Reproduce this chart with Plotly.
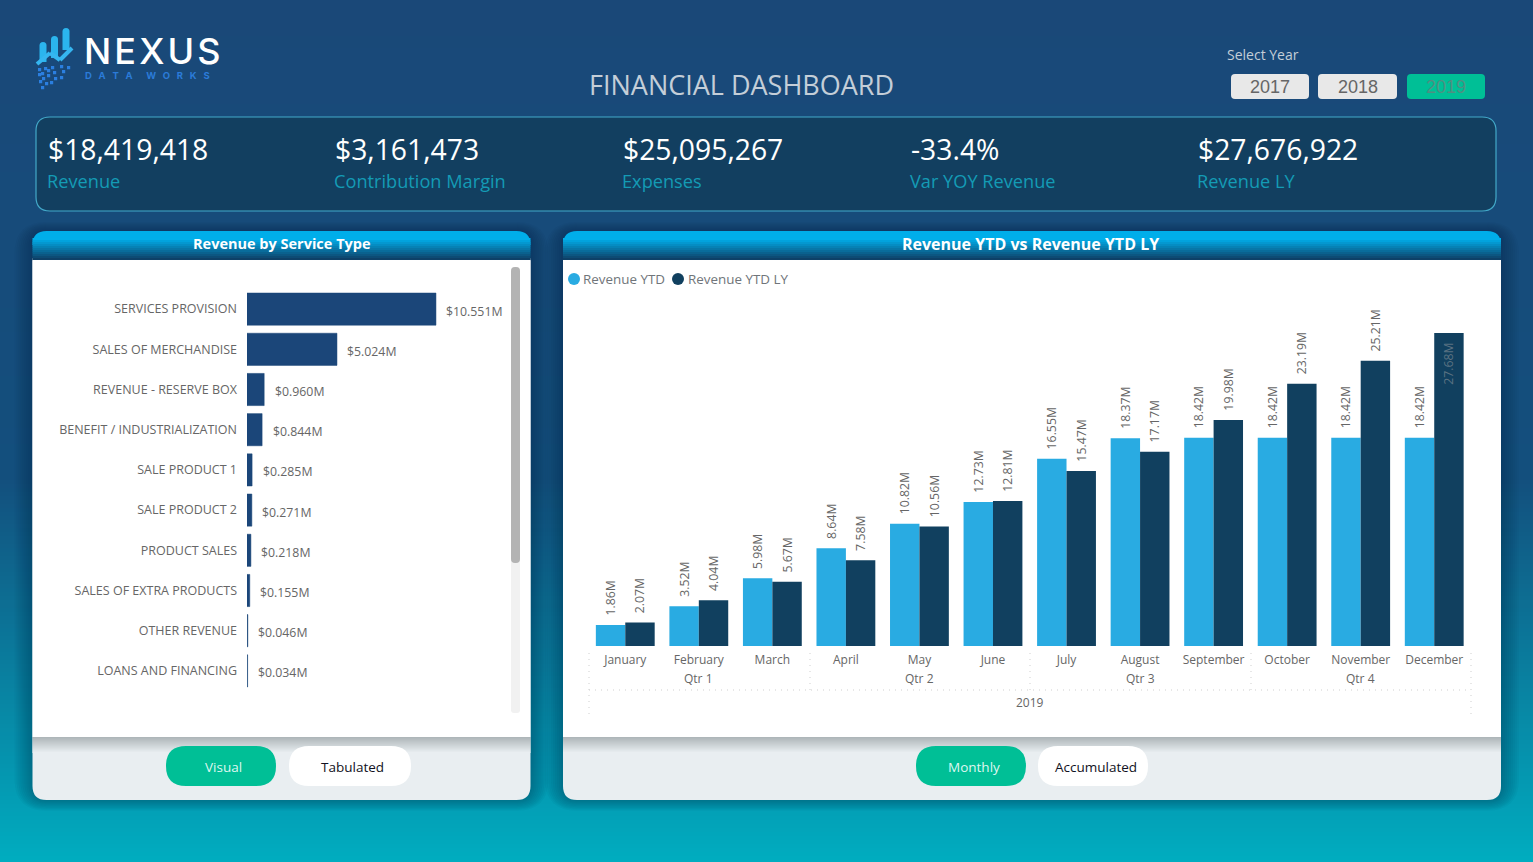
import plotly.graph_objects as go

W = 1533
H = 862

# data
service_types = ['SERVICES PROVISION', 'SALES OF MERCHANDISE', 'REVENUE - RESERVE BOX',
                 'BENEFIT / INDUSTRIALIZATION', 'SALE PRODUCT 1', 'SALE PRODUCT 2',
                 'PRODUCT SALES', 'SALES OF EXTRA PRODUCTS', 'OTHER REVENUE', 'LOANS AND FINANCING']
service_revenue = [10.551, 5.024, 0.960, 0.844, 0.285, 0.271, 0.218, 0.155, 0.046, 0.034]

months = ['January', 'February', 'March', 'April', 'May', 'June', 'July', 'August',
          'September', 'October', 'November', 'December']
revenue_ytd = [1.86, 3.52, 5.98, 8.64, 10.82, 12.73, 16.55, 18.37, 18.42, 18.42, 18.42, 18.42]
revenue_ytd_ly = [2.07, 4.04, 5.67, 7.58, 10.56, 12.81, 15.47, 17.17, 19.98, 23.19, 25.21, 27.68]
quarters = ['Qtr 1', 'Qtr 2', 'Qtr 3', 'Qtr 4']
quarter_months = ['February', 'May', 'August', 'November']

kpi_values = ['$18,419,418', '$3,161,473', '$25,095,267', '-33.4%', '$27,676,922']
kpi_labels = ['Revenue', 'Contribution Margin', 'Expenses', 'Var YOY Revenue', 'Revenue LY']
years = ['2017', '2018', '2019']

FONT = 'Open Sans'
GREY = '#666666'
NAVY = '#1b4679'
BLUE = '#29abe2'
DARK = '#11405f'
GREEN = '#00bf96'
NB = '\u00a0'
HAIR = '\u200a'


def px(x):
    return x / W


def py(y):
    return 1 - y / H


def mix(c0, c1, t):
    a = [int(c0[i:i + 2], 16) for i in (1, 3, 5)]
    b = [int(c1[i:i + 2], 16) for i in (1, 3, 5)]
    return 'rgb(%d,%d,%d)' % tuple(round(a[i] + (b[i] - a[i]) * t) for i in range(3))


fig = go.Figure()
shapes = []


def box(x0, y0, x1, y1, fill, rt=0, rb=0, line=None, width=1):
    # rounded rectangle in pixel coordinates
    X0, X1, Y0, Y1 = px(x0), px(x1), py(y0), py(y1)
    rtx, rty, rbx, rby = rt / W, rt / H, rb / W, rb / H
    path = (f'M{X0},{Y0 - rty} Q{X0},{Y0} {X0 + rtx},{Y0} L{X1 - rtx},{Y0} Q{X1},{Y0} {X1},{Y0 - rty} '
            f'L{X1},{Y1 + rby} Q{X1},{Y1} {X1 - rbx},{Y1} L{X0 + rbx},{Y1} Q{X0},{Y1} {X0},{Y1 + rby} Z')
    shapes.append(dict(type='path', path=path, xref='paper', yref='paper', layer='below',
                       fillcolor=fill, line=dict(color=line or 'rgba(0,0,0,0)', width=width if line else 0)))


def seg(x0, y0, x1, y1, color, width=1, dash=None):
    shapes.append(dict(type='line', x0=px(x0), y0=py(y0), x1=px(x1), y1=py(y1), xref='paper', yref='paper',
                       layer='below', line=dict(color=color, width=width, dash=dash)))


def label(x, y, text, size, color, anchor='left', family=FONT, weight=None):
    fig.add_annotation(x=px(x), y=py(y), xref='paper', yref='paper', text=text, showarrow=False,
                       xanchor=anchor, yanchor='middle', borderpad=0,
                       font=dict(family=family, size=size, color=color, weight=weight))


# page background
step = 4
for y in range(0, H, step):
    t = y / H
    if t < 0.55:
        c = mix('#1a4878', '#134f7d', t / 0.55)
    else:
        c = mix('#134f7d', '#00adc0', (t - 0.55) / 0.45)
    box(0, y, W, y + step + 1, c)

# soft shadows around the two panels
for x0, x1 in [(32.5, 530.5), (563, 1501)]:
    for g in range(18, 0, -2):
        box(x0 - g, 231 - g / 2, x1 + g, 800 + g * 0.6, 'rgba(5,40,70,0.035)', rt=14 + g, rb=14 + g)

# logo
for x, top, bot in [(43, 42, 62), (54.5, 36, 58), (66, 28, 50)]:
    box(x - 3.5, top, x + 3.5, bot, '#2bb5ee', rt=3.5)
for a, b in [((37, 64), (50, 53)), ((50, 53), (60, 60)), ((60, 60), (72, 48))]:
    seg(a[0], a[1], b[0], b[1], '#35b6f0', 4)
for dx, dy in [(38, 68), (41, 72), (44, 67), (42, 77), (47, 74), (45, 82), (39, 80), (51, 66), (53, 71),
               (54, 77), (50, 81), (60, 65), (62, 70), (60, 76), (67, 66), (41, 86), (47, 69), (38, 73)]:
    box(dx, dy, dx + 3.2, dy + 3.2, '#2b7fe0')
label(83, 51, HAIR.join('NEXUS'), 36, '#ffffff', family='Inter', weight=500)
nb_word = (NB * 3).join(['D', 'A', 'T', 'A']) + NB * 6 + (NB * 3).join(['W', 'O', 'R', 'K', 'S'])
label(84, 75.5, nb_word, 9.5, '#2b7bd8', family='Inter', weight=700)

label(741, 84.5, 'FINANCIAL DASHBOARD', 27, '#c4ced8', anchor='center')
label(1226, 54.5, 'Select Year', 14, '#c4ced8')

# year slicer
for yr, x0, x1, fill, col in zip(years, [1231, 1318, 1407], [1309, 1397, 1485],
                                 ['#e8e8e8', '#e8e8e8', GREEN], [GREY, GREY, '#4f8f82']):
    box(x0, 74, x1, 99, fill, rt=4, rb=4)
    label((x0 + x1) / 2, 87, yr, 18, col, anchor='center', family='Liberation Sans')

# KPI band
box(36, 117, 1496, 211, '#123f60', rt=14, rb=14, line='#43a9c9', width=1.2)
for v, l, x in zip(kpi_values, kpi_labels, [47, 334, 622, 910, 1197]):
    label(x, 149, v, 28.3, '#ffffff')
    label(x - 1, 181, l, 18.2, '#149bb5')

# panels
for x0, x1, title, tsize, tx in [(32.5, 530.5, 'Revenue by Service Type', 14.5, 282),
                                 (563, 1501, 'Revenue YTD vs Revenue YTD LY', 16, 1030)]:
    box(x0, 258, x1, 800, '#e9eef1', rb=14)
    box(x0, 231, x1, 245, '#00aeea', rt=14)
    for y in range(238, 260, 2):
        box(x0, y, x1, y + 2.5, mix('#01aeea', '#0f3a60', (y - 238) / 21))
    box(x0, 260, x1, 737, '#ffffff')
    for i in range(16):
        box(x0, 737 + i, x1, 738 + i, mix('#aeb6b9', '#e9eef1', i / 15))
    label(tx, 243.5, f'<b>{title}</b>', tsize, '#ffffff', anchor='center')

# scrollbar
box(511, 267, 520, 713, '#f1f1f1', rt=3, rb=3)
box(511, 267, 520, 563, '#b3b3b3', rt=4, rb=4)

# toggle buttons
for text, x0, x1, fill, col, shift in [('Visual', 166, 276, GREEN, '#dff7f0', 2.5),
                                       ('Tabulated', 289, 411, '#ffffff', '#111122', 2),
                                       ('Monthly', 916, 1026, GREEN, '#dff7f0', 2.5),
                                       ('Accumulated', 1038, 1148, '#ffffff', '#111122', 2.5)]:
    box(x0, 746, x1, 786, fill, rt=20, rb=20)
    label((x0 + x1) / 2 + shift, 767, text, 13.5, col, anchor='center')

# legend of the column chart
for cx, col, text, tx in [(574, BLUE, 'Revenue YTD', 582), (678, DARK, 'Revenue YTD LY', 687)]:
    shapes.append(dict(type='circle', x0=px(cx - 6), x1=px(cx + 6), y0=py(285), y1=py(273), xref='paper', yref='paper',
                       fillcolor=col, line=dict(width=0), layer='below'))
    label(tx, 279, text, 13.4, '#70757a')

# hierarchy dividers under the months
DOT = '#cfcfcf'
DOTS = '1px,5px'
seg(589, 690, 1471, 690, DOT, 1, DOTS)
for x in [589, 1471]:
    seg(x, 653, x, 716, DOT, 1, DOTS)
for x in [810, 1030, 1251]:
    seg(x, 653, x, 690, DOT, 1, DOTS)
for q, m in zip(quarters, quarter_months):
    fig.add_annotation(x=m, xref='x2', y=py(678), yref='paper', text=q, showarrow=False, yanchor='middle',
                       font=dict(family=FONT, size=12, color=GREY))
label(1030, 702, '2019', 12, GREY, anchor='center')

# bar chart
fig.add_trace(go.Bar(
    x=service_revenue, y=service_types, orientation='h', marker=dict(color=NAVY, line=dict(color=NAVY, width=0.5)),
    xaxis='x', yaxis='y', showlegend=False,
))
for cat, val in zip(service_types, service_revenue):
    fig.add_annotation(x=val, y=cat, xref='x', yref='y', text=f'${val:.3f}M', showarrow=False, xanchor='left',
                       xshift=8.5, yshift=-2, font=dict(family=FONT, size=12.3, color=GREY))

# column chart
outside = NB * 2 + '%{y:.2f}M'
inside = '%{y:.2f}M' + NB * 2
fig.add_trace(go.Bar(
    x=months, y=revenue_ytd, name='Revenue YTD', marker=dict(color=BLUE, line=dict(width=0)),
    texttemplate=outside, textposition='outside', textangle=-90, cliponaxis=False, constraintext='none',
    textfont=dict(family=FONT, size=12.3, color=GREY), xaxis='x2', yaxis='y2', showlegend=False,
))
fig.add_trace(go.Bar(
    x=months, y=revenue_ytd_ly, name='Revenue YTD LY', marker=dict(color=DARK, line=dict(width=0)),
    texttemplate=[outside] * (len(months) - 1) + [inside],
    textposition=['outside'] * (len(months) - 1) + ['inside'],
    textangle=-90, cliponaxis=False, insidetextanchor='end', constraintext='none',
    textfont=dict(family=FONT, size=12.3, color=[GREY] * (len(months) - 1) + ['#5b7282']),
    xaxis='x2', yaxis='y2', showlegend=False,
))

fig.update_layout(
    width=W, height=H, margin=dict(l=0, r=0, t=0, b=0), autosize=False,
    paper_bgcolor='rgba(0,0,0,0)', plot_bgcolor='rgba(0,0,0,0)', barmode='group',
    bargap=0.2, bargroupgap=0, shapes=shapes, showlegend=False,
    xaxis=dict(domain=[px(247), px(510)], range=[0, (510 - 247) / 17.91], visible=False),
    yaxis=dict(domain=[py(691), py(289)], autorange='reversed', showgrid=False, zeroline=False,
               showline=False, ticks='', ticklabelstandoff=9,
               tickfont=dict(family=FONT, size=12.5, color=GREY), automargin=False, anchor='x'),
    xaxis2=dict(domain=[px(588.5), px(1471)], showgrid=False, zeroline=False, ticks='', anchor='y2',
                ticklabelstandoff=5, tickfont=dict(family=FONT, size=12, color=GREY), automargin=False, tickangle=0),
    yaxis2=dict(domain=[py(646), py(290)], range=[0, (646 - 290) / 11.31], visible=False, anchor='x2'),
)

fig.write_html("out.html", config={'displayModeBar': False},
               post_script="document.body.style.margin='0';document.body.style.overflow='hidden';")
